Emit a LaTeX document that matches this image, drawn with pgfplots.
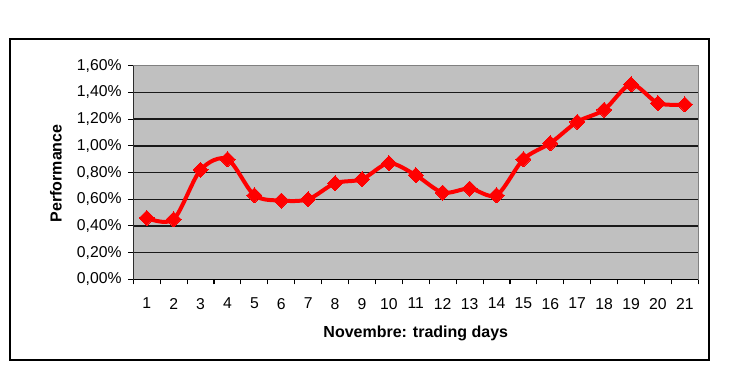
\documentclass[border=0pt]{standalone}
\usepackage{pgfplots}
\pgfplotsset{compat=1.18}
\usepackage{fontspec}
\setmainfont{Liberation Sans}
\definecolor{plotgray}{RGB}{192,192,192}
\definecolor{borderg}{RGB}{128,128,128}
\begin{document}
\begin{tikzpicture}[x=0.75pt,y=0.75pt]
\path[use as bounding box] (0,0) rectangle (746,380);
\draw[line width=1.4pt,black] (10,20) rectangle (709,341);
\begin{axis}[
  at={(99.98pt,75.5pt)}, anchor=south west,
  scale only axis, width=423.75pt, height=160.2pt,
  xmin=0.5, xmax=21.5, ymin=0, ymax=1.6,
  axis background/.style={fill=plotgray},
  axis line style={draw=borderg, line width=0.9pt},
  ytick={0,0.2,0.4,0.6,0.8,1.0,1.2,1.4,1.6},
  ymajorgrids, major grid style={black!90, line width=1.1pt},
  xtick={0.5,1.5,...,21.5}, xticklabels={},
  extra x ticks={1,2,3,4,5,6,7,8,9,10,11,12,13,14,15,16,17,18,19,20,21},
  extra x tick style={major tick length=0pt, grid=none},
  extra x tick labels={1,2,3,4,5,6,7,8,9,10,11,12,13,14,15,16,17,18,19,20,21},
  tick align=outside, xtick pos=bottom, ytick pos=left,
  major tick length=3.75pt,
  tick style={black, line width=0.8pt},
  yticklabel={\pgfmathprintnumber[fixed,fixed zerofill,precision=2,use comma,assume math mode=true]{\tick}\%},
  tick label style={font=\fontsize{11.8}{13}\selectfont},
  xticklabel style={yshift=-10.5pt},
  yticklabel style={xshift=-1.5pt},
  xlabel={Novembre: trading days},
  ylabel={Performance},
  label style={font=\bfseries\fontsize{12}{14}\selectfont},
  xlabel style={at={(axis description cs:0.5,-0.251)}, anchor=center},
  ylabel style={at={(axis description cs:-0.137,0.496)}, anchor=center, rotate=0},
]
\draw[black, line width=1pt] (axis cs:0.5,1.6) -- (axis cs:0.5,0) -- (axis cs:21.5,0);
\addplot[red, line width=3pt, smooth, tension=0.5, mark=square*, mark size=4pt, mark options={rotate=45, solid, fill=red, draw=red, line width=0pt}] coordinates {
(1,0.46) (2,0.45) (3,0.82) (4,0.90) (5,0.63) (6,0.59) (7,0.60) (8,0.72) (9,0.75) (10,0.87) (11,0.78) (12,0.65) (13,0.68) (14,0.63) (15,0.90) (16,1.02) (17,1.18) (18,1.27) (19,1.46) (20,1.32) (21,1.31)
};
\end{axis}
\end{tikzpicture}
\end{document}
